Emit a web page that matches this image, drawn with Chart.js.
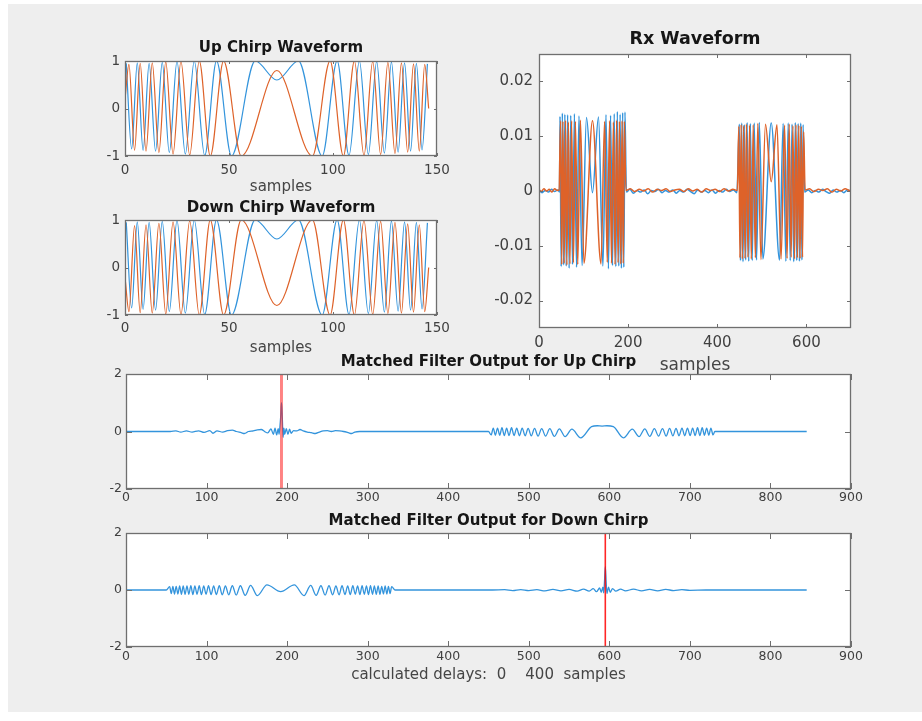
<!DOCTYPE html>
<html>
<head>
<meta charset="utf-8">
<title>Chirp matched filter</title>
<script src="https://cdn.jsdelivr.net/npm/chart.js@4.4.1/dist/chart.umd.min.js"></script>
<style>
  html, body { margin: 0; padding: 0; background: #ffffff; }
  body { width: 922px; height: 721px; position: relative; overflow: hidden; }
  #fig { position: absolute; left: 8px; top: 4px; width: 914px; height: 708px; background: #eeeeee; }
  canvas { position: absolute; }
</style>
</head>
<body>
<div id="fig"></div>
<canvas id="upChirp"   width="377" height="160" style="left:80px;top:36px;"></canvas>
<canvas id="downChirp" width="377" height="162" style="left:80px;top:195px;"></canvas>
<canvas id="rxWave"    width="400" height="352" style="left:470px;top:24px;"></canvas>
<canvas id="mfUp"      width="780" height="160" style="left:90px;top:350px;"></canvas>
<canvas id="mfDown"    width="780" height="181" style="left:90px;top:509px;"></canvas>
<script>
// -----------------------------------------------------------------
// data (peaks / troughs of each trace)
// -----------------------------------------------------------------

// Up chirp - real part (blue)
const upReX = [0.6, 3.2, 5.9, 8.7, 11.6, 14.7, 17.9, 21.3, 25.0, 29.0, 33.3, 38.3, 44.0, 51.2, 62.6, 73.0,
  83.4, 94.8, 102.0, 107.7, 112.7, 117.0, 121.0, 124.7, 128.1, 131.3, 134.4, 137.3, 140.1, 142.8, 145.4];
const upReY = [0.95, -0.85, 0.96, -0.88, 0.95, -0.9, 0.97, -0.93, 0.99, -0.96, 1.0, -0.99, 1.0, -1.0, 1.0, 0.6,
  1.0, -1.0, 1.0, -0.99, 1.0, -0.97, 0.99, -0.94, 0.98, -0.92, 0.96, -0.9, 0.95, -0.87, 0.94];
// Up chirp - imaginary part (orange)
const upImX = [0, 1.9, 4.6, 7.3, 10.1, 13.1, 16.3, 19.6, 23.1, 26.9, 31.1, 35.7, 41.0, 47.4, 55.9, 73.0,
  90.1, 98.6, 105.0, 110.3, 114.9, 119.1, 122.9, 126.4, 129.8, 132.9, 135.9, 138.7, 141.5, 144.1, 146.0];
const upImY = [0.2, 0.93, -0.88, 0.95, -0.9, 0.96, -0.93, 0.98, -0.96, 0.99, -0.98, 1.0, -1.0, 1.0, -1.0, 0.8,
  -1.0, 1.0, -1.0, 1.0, -0.99, 0.99, -0.97, 0.97, -0.95, 0.96, -0.92, 0.94, -0.9, 0.93, 0.0];

// Down chirp - real part (blue)
const dnReX = [0.6, 3.2, 5.9, 8.7, 11.6, 14.7, 17.9, 21.3, 25.0, 29.0, 33.3, 38.3, 44.0, 51.2, 62.6, 73.0,
  83.4, 94.8, 102.0, 107.7, 112.7, 117.0, 121.0, 124.7, 128.1, 131.3, 134.4, 137.3, 140.1, 142.8, 145.4];
const dnReY = [0.95, -0.85, 0.96, -0.88, 0.95, -0.9, 0.97, -0.93, 0.99, -0.96, 1.0, -0.99, 1.0, -1.0, 1.0, 0.6,
  1.0, -1.0, 1.0, -0.99, 1.0, -0.97, 0.99, -0.94, 0.98, -0.92, 0.96, -0.9, 0.95, -0.87, 0.94];
// Down chirp - imaginary part (orange)
const dnImX = [0, 1.9, 4.6, 7.3, 10.1, 13.1, 16.3, 19.6, 23.1, 26.9, 31.1, 35.7, 41.0, 47.4, 55.9, 73.0,
  90.1, 98.6, 105.0, 110.3, 114.9, 119.1, 122.9, 126.4, 129.8, 132.9, 135.9, 138.7, 141.5, 144.1, 146.0];
const dnImY = [-0.2, -0.93, 0.88, -0.95, 0.9, -0.96, 0.93, -0.98, 0.96, -0.99, 0.98, -1.0, 1.0, -1.0, 1.0, -0.8,
  1.0, -1.0, 1.0, -1.0, 0.99, -0.99, 0.97, -0.97, 0.95, -0.96, 0.92, -0.94, 0.9, -0.93, 0.0];

// Rx waveform - real part (blue)
const rxReX = [0, 7, 14, 21, 28, 35, 42, 46,
  47.1, 49.7, 52.4, 55.1, 58.0, 61.0, 64.2, 67.6, 71.2, 75.1, 79.4, 84.2, 89.7, 96.6, 106.5, 120,
  133.5, 143.4, 150.3, 155.8, 160.6, 164.9, 168.8, 172.4, 175.8, 179.0, 182.0, 184.9, 187.7, 190.3, 192.9,
  196, 204, 212, 220, 228, 236, 244, 252, 260, 268, 276, 284, 292, 300, 308, 316,
  324, 332, 340, 348, 356, 364, 372, 380, 388, 396, 404, 412, 420, 428, 436, 444,
  449.5, 452.1, 454.8, 457.7, 460.6, 463.7, 467.0, 470.5, 474.3, 478.4, 482.9, 488.1, 494.2, 502.3, 521,
  539.7, 547.8, 553.9, 559.1, 563.6, 567.7, 571.5, 575.0, 578.3, 581.4, 584.3, 587.2, 589.9, 592.5,
  596, 604, 612, 620, 628, 636, 644, 652, 660, 668, 676, 684, 692, 700];
const rxReY = [0.0002, -0.0003, 0.0001, -0.0002, 0.0003, -0.0001, 0.0002, -0.0002,
  0.0136, -0.0138, 0.0142, -0.0135, 0.014, -0.0137, 0.0139, -0.0141, 0.0138, -0.0134, 0.0141, -0.0139, 0.0137, -0.0136, 0.0134, -0.0003,
  0.0135, -0.0137, 0.0139, -0.0142, 0.0138, -0.0136, 0.0141, -0.0138, 0.0145, -0.0137, 0.014, -0.0141, 0.0143, -0.0139, 0.0144,
  -0.0002, 0.0003, -0.0004, 0.0001, -0.0002, 0.0002, -0.0005, 0.0001, -0.0001, 0.0003, -0.0003, 0.0001, -0.0002, 0.0002, -0.0004, 0.0001,
  -0.0002, 0.0003, -0.0001, -0.0005, 0.0002, -0.0002, 0.0001, -0.0003, 0.0002, -0.0004, 0.0001, -0.0002, 0.0003, -0.0001, 0.0002, -0.0003,
  0.0122, -0.0127, 0.0124, -0.0129, 0.0121, -0.0126, 0.0125, -0.0128, 0.0123, -0.0127, 0.0124, -0.0126, 0.0125, -0.0124, 0.0124,
  -0.0126, 0.0123, -0.0128, 0.0124, -0.0127, 0.0122, -0.0129, 0.0125, -0.0127, 0.0123, -0.0128, 0.0124, -0.0126, 0.0121,
  -0.0002, 0.0002, -0.0003, 0.0001, -0.0002, 0.0003, -0.0001, -0.0004, 0.0002, -0.0002, 0.0001, -0.0003, 0.0002, -0.0001];
// Rx waveform - imaginary part (orange)
const rxImX = [0, 5, 11, 17, 23, 29, 35, 41, 45,
  48.4, 51.0, 53.7, 56.5, 59.5, 62.6, 65.9, 69.4, 73.1, 77.2, 81.7, 86.9, 92.9, 100.9, 120,
  139.1, 147.1, 153.2, 158.3, 162.8, 166.9, 170.6, 174.1, 177.4, 180.5, 183.5, 186.3, 189.0, 191.6,
  195, 205, 215, 225, 235, 245, 255, 265, 275, 285, 295, 305, 315,
  325, 335, 345, 355, 365, 375, 385, 395, 405, 415, 425, 435, 445,
  448.3, 450.8, 453.5, 456.2, 459.1, 462.2, 465.4, 468.8, 472.4, 476.3, 480.6, 485.4, 491.0, 497.9, 508.1, 521,
  533.9, 543.1, 551.0, 556.6, 561.4, 565.7, 569.6, 573.3, 576.6, 579.8, 582.9, 585.8, 588.5, 591.2, 593.8,
  597, 607, 617, 627, 637, 647, 657, 667, 677, 687, 697, 700];
const rxImY = [0.0003, -0.0001, 0.0004, 0.0, 0.0003, -0.0002, 0.0004, 0.0001, 0.0002,
  0.0128, -0.0134, 0.0127, -0.0132, 0.0129, -0.0135, 0.0126, -0.0133, 0.0128, -0.0131, 0.0127, -0.0134, 0.0129, -0.0132, 0.0128,
  -0.0133, 0.0127, -0.013, 0.0128, -0.0132, 0.0126, -0.0134, 0.0129, -0.0131, 0.0127, -0.0133, 0.0128, -0.0132, 0.0127,
  0.0001, 0.0004, -0.0001, 0.0003, 0.0, 0.0004, -0.0002, 0.0003, 0.0001, 0.0004, -0.0001, 0.0002, 0.0003,
  -0.0001, 0.0004, 0.0, 0.0003, -0.0002, 0.0004, 0.0001, 0.0003, -0.0001, 0.0004, 0.0, 0.0003, 0.0001,
  0.0118, -0.0122, 0.0121, -0.0124, 0.0119, -0.0123, 0.0122, -0.0121, 0.012, -0.0124, 0.0121, -0.0122, 0.0123, -0.0125, 0.0122, 0.0017,
  0.0121, -0.0124, 0.012, -0.0123, 0.0122, -0.0121, 0.0119, -0.0124, 0.0121, -0.0122, 0.012, -0.0123, 0.0118, -0.0121, 0.0108,
  0.0002, 0.0004, -0.0001, 0.0003, 0.0001, 0.0004, -0.0002, 0.0003, 0.0, 0.0004, 0.0001, 0.0002];

// Matched filter output, up chirp
const mfUpX = [0, 55, 62, 68, 75, 82, 90, 97, 104, 108, 113, 120, 126, 132, 137, 143, 147, 152, 158, 163, 168, 172,
  176, 180, 183, 185, 187, 189, 190, 191, 192, 193, 194, 195, 196, 197, 199, 201, 203, 205, 208, 212, 216, 220,
  225, 230, 235, 240, 245, 250, 255, 260, 265, 270, 276, 280, 284, 290, 320, 360, 400, 440, 450,
  453.3, 455.9, 458.5, 461.2, 463.9, 466.7, 469.6, 472.5, 475.5, 478.6, 481.7, 485.0, 488.4, 491.8, 495.5, 499.2,
  503.1, 507.2, 511.5, 516.0, 520.9, 526.1, 531.7, 538.0, 545.1, 553.5, 564.5,
  578, 585, 591, 597, 605,
  617.5, 628.5, 636.9, 644.0, 650.3, 655.9, 661.1, 666.0, 670.5, 674.8, 678.9, 682.8, 686.5, 690.2, 693.6, 697.0,
  700.3, 703.4, 706.5, 709.5, 712.4, 715.3, 718.1, 720.8, 723.5, 726.1, 728.7, 731, 845];
const mfUpY = [0, 0, 0.02, -0.02, 0.02, -0.02, 0.025, -0.03, 0.03, -0.06, 0.02, -0.02, 0.03, 0.05, 0.0, -0.04, -0.07, 0.0, 0.02, 0.06, 0.07, 0.0,
  -0.05, 0.09, -0.1, 0.12, -0.12, 0.1, -0.1, 0.15, 0.5, 1.0, 0.5, -0.2, 0.12, -0.1, 0.1, -0.1, 0.08, -0.06, 0.03, 0.02, 0.07, 0.02,
  -0.02, -0.04, -0.07, -0.02, 0.02, 0.03, 0.0, 0.03, 0.02, 0.0, -0.04, -0.07, -0.02, 0.0, 0.0, 0.0, 0.0, 0.0, 0.0,
  -0.12, 0.12, -0.13, 0.12, -0.13, 0.13, -0.14, 0.12, -0.14, 0.13, -0.14, 0.12, -0.15, 0.12, -0.15, 0.11,
  -0.15, 0.11, -0.16, 0.1, -0.16, 0.1, -0.17, 0.09, -0.18, 0.08, -0.22,
  0.17, 0.2, 0.19, 0.2, 0.17,
  -0.22, 0.08, -0.18, 0.09, -0.17, 0.1, -0.16, 0.1, -0.16, 0.11, -0.15, 0.11, -0.15, 0.12, -0.15, 0.12,
  -0.14, 0.12, -0.14, 0.13, -0.14, 0.13, -0.13, 0.12, -0.13, 0.12, -0.12, 0, 0];

// Matched filter output, down chirp
const mfDnX = [0, 50,
  54.2, 56.2, 58.2, 60.2, 62.3, 64.4, 66.6, 68.8, 71.0, 73.3, 75.7, 78.0, 80.5, 83.0, 85.5, 88.2, 90.9, 93.6,
  96.5, 99.4, 102.4, 105.6, 108.8, 112.2, 115.8, 119.5, 123.4, 127.5, 132.0, 136.8, 142.0, 147.9, 154.7, 163.0, 175.0,
  192,
  209.0, 221.0, 229.3, 236.1, 242.0, 247.2, 252.0, 256.5, 260.6, 264.5, 268.2, 271.8, 275.2, 278.4, 281.6, 284.6,
  287.5, 290.4, 293.1, 295.8, 298.5, 301.0, 303.5, 306.0, 308.3, 310.7, 313.0, 315.2, 317.4, 319.6, 321.7, 323.8,
  325.8, 327.8, 329.8,
  334, 440, 455, 470, 480, 490, 500, 510, 520, 530, 540, 550, 560, 568, 575, 580, 584, 588, 590, 592, 593,
  594, 595, 596, 597, 599, 601, 604, 608, 614, 620, 630, 640, 650, 660, 670, 680, 690, 700, 720, 845];
const mfDnY = [0, 0,
  0.12, -0.13, 0.13, -0.14, 0.13, -0.14, 0.14, -0.15, 0.14, -0.15, 0.14, -0.15, 0.15, -0.16, 0.14, -0.15, 0.15, -0.16,
  0.14, -0.15, 0.15, -0.16, 0.14, -0.16, 0.15, -0.17, 0.14, -0.17, 0.15, -0.18, 0.15, -0.19, 0.16, -0.2, 0.18,
  -0.06,
  0.18, -0.2, 0.16, -0.19, 0.15, -0.18, 0.15, -0.17, 0.14, -0.17, 0.15, -0.16, 0.14, -0.16, 0.15, -0.15,
  0.14, -0.16, 0.15, -0.15, 0.14, -0.16, 0.15, -0.15, 0.14, -0.15, 0.14, -0.15, 0.13, -0.14, 0.14, -0.14,
  0.13, -0.13, 0.12,
  0, 0, 0, 0.01, -0.02, 0.015, -0.02, 0.01, -0.03, 0.02, -0.03, 0.02, -0.04, 0.03, -0.04, 0.05, -0.06, 0.07, -0.08, 0.1, -0.1,
  0.3, 0.82, 0.3, -0.12, 0.1, -0.08, 0.05, -0.04, 0.03, -0.03, 0.03, -0.03, 0.02, -0.03, 0.02, -0.02, 0.01, -0.01, 0, 0];

// calculated peak positions (red markers)
const delayUp = 193;
const delayDown = 595;

// ticks
const chirpXTicks = [0, 50, 100, 150];
const chirpXLabels = ['0', '50', '100', '150'];
const chirpYTicks = [-1, 0, 1];
const chirpYLabels = ['-1', '0', '1'];
const rxXTicks = [0, 200, 400, 600];
const rxXLabels = ['0', '200', '400', '600'];
const rxYTicks = [-0.02, -0.01, 0, 0.01, 0.02];
const rxYLabels = ['-0.02', '-0.01', '0', '0.01', '0.02'];
const mfXTicks = [0, 100, 200, 300, 400, 500, 600, 700, 800, 900];
const mfXLabels = ['0', '100', '200', '300', '400', '500', '600', '700', '800', '900'];
const mfYTicks = [-2, 0, 2];
const mfYLabels = ['-2', '0', '2'];

// -----------------------------------------------------------------
const FONT = '"DejaVu Sans", "Liberation Sans", sans-serif';
const BLUE = '#3394dc';
const ORANGE = '#de6229';

const pts = (xs, ys) => xs.map((x, i) => ({ x: x, y: ys[i] }));

function trace(xs, ys, color, order, width) {
    return {
        data: pts(xs, ys),
        borderColor: color,
        borderWidth: width || 1.2,
        pointRadius: 0,
        cubicInterpolationMode: 'monotone',
        order: order,
    };
}

function marker(x, color, width) {
    return {
        data: [{ x: x, y: -2 }, { x: x, y: 2 }],
        borderColor: color,
        borderWidth: width,
        pointRadius: 0,
        tension: 0,
        order: 0,
    };
}

// white axes background, box and inward ticks (matlab look)
const matlabAxes = {
    id: 'matlabAxes',
    beforeDatasetsDraw(chart) {
        const { ctx, chartArea: a } = chart;
        ctx.save();
        ctx.fillStyle = '#ffffff';
        ctx.fillRect(a.left, a.top, a.right - a.left, a.bottom - a.top);
        ctx.restore();
    },
    afterDatasetsDraw(chart, args, opts) {
        const { ctx, chartArea: a, scales } = chart;
        const len = opts.tickLen || 3;
        ctx.save();
        ctx.strokeStyle = '#6f6f6f';
        ctx.lineWidth = 1;
        ctx.beginPath();
        scales.x.ticks.forEach(t => {
            const px = Math.round(scales.x.getPixelForValue(t.value)) + 0.5;
            ctx.moveTo(px, a.bottom); ctx.lineTo(px, a.bottom - len);
            ctx.moveTo(px, a.top); ctx.lineTo(px, a.top + len);
        });
        scales.y.ticks.forEach(t => {
            const py = Math.round(scales.y.getPixelForValue(t.value)) + 0.5;
            ctx.moveTo(a.left, py); ctx.lineTo(a.left + len, py);
            ctx.moveTo(a.right, py); ctx.lineTo(a.right - len, py);
        });
        ctx.stroke();
        ctx.lineWidth = 1.3;
        ctx.strokeRect(Math.round(a.left) + 0.5, Math.round(a.top) + 0.5,
            Math.round(a.right - a.left) - 1, Math.round(a.bottom - a.top) - 1);
        ctx.restore();
    }
};

function makeAxes(id, datasets, c) {
    const ctx = document.getElementById(id);
    if (!ctx) return;

    new Chart(ctx, {
        type: 'line',
        data: { datasets: datasets },
        plugins: [matlabAxes],
        options: {
            responsive: false,
            animation: false,
            events: [],
            layout: { padding: { left: 0, right: c.padRight, top: 0, bottom: 0 } },
            plugins: {
                legend: { display: false },
                tooltip: { enabled: false },
                title: {
                    display: true,
                    text: c.title,
                    fullSize: false,
                    color: '#161616',
                    font: { family: FONT, size: c.titleSize, weight: 'bold', lineHeight: 1.2 },
                    padding: { top: c.titlePad[0], bottom: c.titlePad[1] },
                },
                matlabAxes: { tickLen: c.tickLen },
            },
            scales: {
                x: {
                    type: 'linear',
                    min: c.xMin,
                    max: c.xMax,
                    grid: { display: false, drawTicks: false },
                    border: { display: false },
                    afterBuildTicks: s => { s.ticks = c.xTicks.map(v => ({ value: v })); },
                    afterFit: s => { s.height = c.xHeight; },
                    ticks: {
                        autoSkip: false,
                        maxRotation: 0,
                        padding: c.xTickPad,
                        color: '#404040',
                        font: { family: FONT, size: c.tickSize },
                        callback: (v, i) => c.xLabels[i],
                    },
                    title: {
                        display: !!c.xTitle,
                        text: c.xTitle || '',
                        color: '#454545',
                        font: { family: FONT, size: c.xTitleSize, lineHeight: 1.2 },
                        padding: { top: 0, bottom: c.xTitlePad || 0 },
                    },
                },
                y: {
                    type: 'linear',
                    min: c.yMin,
                    max: c.yMax,
                    grid: { display: false, drawTicks: false },
                    border: { display: false },
                    afterBuildTicks: s => { s.ticks = c.yTicks.map(v => ({ value: v })); },
                    afterFit: s => { s.width = c.yWidth; },
                    ticks: {
                        autoSkip: false,
                        padding: c.yTickPad,
                        color: '#404040',
                        font: { family: FONT, size: c.tickSize },
                        callback: (v, i) => c.yLabels[i],
                    },
                },
            },
        },
    });
}

makeAxes('upChirp', [trace(upReX, upReY, BLUE, 1), trace(upImX, upImY, ORANGE, 0)], {
    title: 'Up Chirp Waveform', titleSize: 15, titlePad: [3, 4],
    xMin: 0, xMax: 150, yMin: -1, yMax: 1,
    xTicks: chirpXTicks, xLabels: chirpXLabels, yTicks: chirpYTicks, yLabels: chirpYLabels,
    xHeight: 40, yWidth: 45, padRight: 20, tickSize: 13.5, xTickPad: 6, yTickPad: 5,
    xTitle: 'samples', xTitleSize: 15, xTitlePad: 0, tickLen: 3,
});

makeAxes('downChirp', [trace(dnReX, dnReY, BLUE, 1), trace(dnImX, dnImY, ORANGE, 0)], {
    title: 'Down Chirp Waveform', titleSize: 15, titlePad: [4, 3],
    xMin: 0, xMax: 150, yMin: -1, yMax: 1,
    xTicks: chirpXTicks, xLabels: chirpXLabels, yTicks: chirpYTicks, yLabels: chirpYLabels,
    xHeight: 42, yWidth: 45, padRight: 20, tickSize: 13.5, xTickPad: 5, yTickPad: 5,
    xTitle: 'samples', xTitleSize: 15, xTitlePad: 0, tickLen: 3,
});

makeAxes('rxWave', [trace(rxReX, rxReY, BLUE, 1, 1.5), trace(rxImX, rxImY, ORANGE, 0, 1.5)], {
    title: 'Rx Waveform', titleSize: 17.5, titlePad: [4.5, 4.5],
    xMin: 0, xMax: 700, yMin: -0.025, yMax: 0.025,
    xTicks: rxXTicks, xLabels: rxXLabels, yTicks: rxYTicks, yLabels: rxYLabels,
    xHeight: 48, yWidth: 69, padRight: 19, tickSize: 15, xTickPad: 6, yTickPad: 6,
    xTitle: 'samples', xTitleSize: 17, xTitlePad: 0, tickLen: 4,
});

makeAxes('mfUp', [trace(mfUpX, mfUpY, BLUE, 1, 1.3), marker(delayUp, 'rgba(255,30,30,0.55)', 3)], {
    title: 'Matched Filter Output for Up Chirp', titleSize: 15, titlePad: [3, 3],
    xMin: 0, xMax: 900, yMin: -2, yMax: 2,
    xTicks: mfXTicks, xLabels: mfXLabels, yTicks: mfYTicks, yLabels: mfYLabels,
    xHeight: 21, yWidth: 36, padRight: 19, tickSize: 12.5, xTickPad: 1.5, yTickPad: 4,
    tickLen: 6,
});

makeAxes('mfDown', [trace(mfDnX, mfDnY, BLUE, 1, 1.3), marker(delayDown, 'rgba(255,0,0,0.85)', 1.6)], {
    title: 'Matched Filter Output for Down Chirp', titleSize: 15, titlePad: [3, 3],
    xMin: 0, xMax: 900, yMin: -2, yMax: 2,
    xTicks: mfXTicks, xLabels: mfXLabels, yTicks: mfYTicks, yLabels: mfYLabels,
    xHeight: 43, yWidth: 36, padRight: 19, tickSize: 12.5, xTickPad: 2.5, yTickPad: 4,
    xTitle: 'calculated delays:  0    400  samples', xTitleSize: 15, xTitlePad: 6, tickLen: 6,
});
</script>
</body>
</html>
